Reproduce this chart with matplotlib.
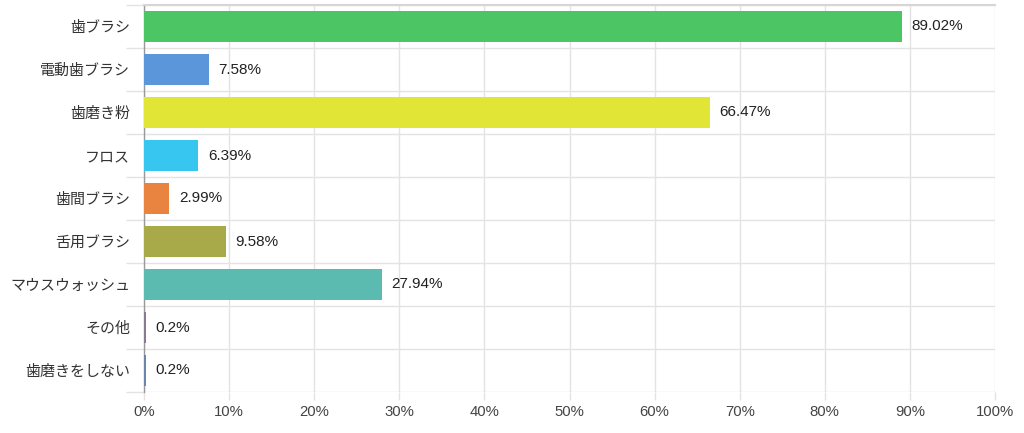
import matplotlib
matplotlib.use("Agg")
import matplotlib.pyplot as plt
import numpy as np

categories = ["歯ブラシ", "電動歯ブラシ", "歯磨き粉", "フロス", "歯間ブラシ",
              "舌用ブラシ", "マウスウォッシュ", "その他", "歯磨きをしない"]
values = [89.02, 7.58, 66.47, 6.39, 2.99, 9.58, 27.94, 0.2, 0.2]
value_labels = ["89.02%", "7.58%", "66.47%", "6.39%", "2.99%", "9.58%", "27.94%", "0.2%", "0.2%"]
colors = ["#4cc665", "#5b96db", "#e1e535", "#36c6f0", "#e8843f", "#a8aa4a",
          "#5bbbb0", "#8a7a8f", "#6a86ab"]
xticks = list(range(0, 101, 10))
xtick_labels = [f"{t}%" for t in xticks]

plt.rcParams['font.family'] = ['Liberation Sans', 'Noto Sans CJK JP', 'DejaVu Sans']

fig = plt.figure(figsize=(10.24, 4.33), dpi=100)
ax = fig.add_axes([144/1024, 1-392/433, (995-144)/1024, (392-5)/433])

n = len(categories)
y = np.arange(n)
ax.barh(y, values, height=0.7, color=colors, zorder=3)
for yi, v, lab in zip(y, values, value_labels):
    ax.annotate(lab, (v, yi), xytext=(7, 0), textcoords="offset points",
                va="center", ha="left", fontsize=11, color="#222222", zorder=4)

ax.set_xlim(0, 100)
ax.set_ylim(n - 0.5, -0.5)
ax.set_xticks(xticks)
ax.set_xticklabels(xtick_labels, fontsize=10.7, color="#444444")
ax.set_yticks(y)
ax.set_yticklabels(categories, fontsize=10.8, color="#333333")

# category boundary grid
ax.set_yticks(np.arange(-0.5, n, 1), minor=True)
ax.grid(True, which="minor", axis="y", color="#e3e3e3", linewidth=1, zorder=0)
ax.grid(True, which="major", axis="x", color="#e3e3e3", linewidth=1, zorder=0)
ax.tick_params(axis="y", which="major", length=0, pad=10)
ax.tick_params(axis="y", which="minor", length=13, color="#e3e3e3", width=1)
ax.tick_params(axis="x", which="major", length=6, color="#e3e3e3", width=1, pad=3)

for s in ["right", "bottom"]:
    ax.spines[s].set_visible(False)
ax.spines["top"].set_color("#d6d6d6")
ax.spines["top"].set_linewidth(1.5)
ax.spines["left"].set_color("#999999")
ax.spines["left"].set_linewidth(1)

fig.savefig("out.png", dpi=100)
